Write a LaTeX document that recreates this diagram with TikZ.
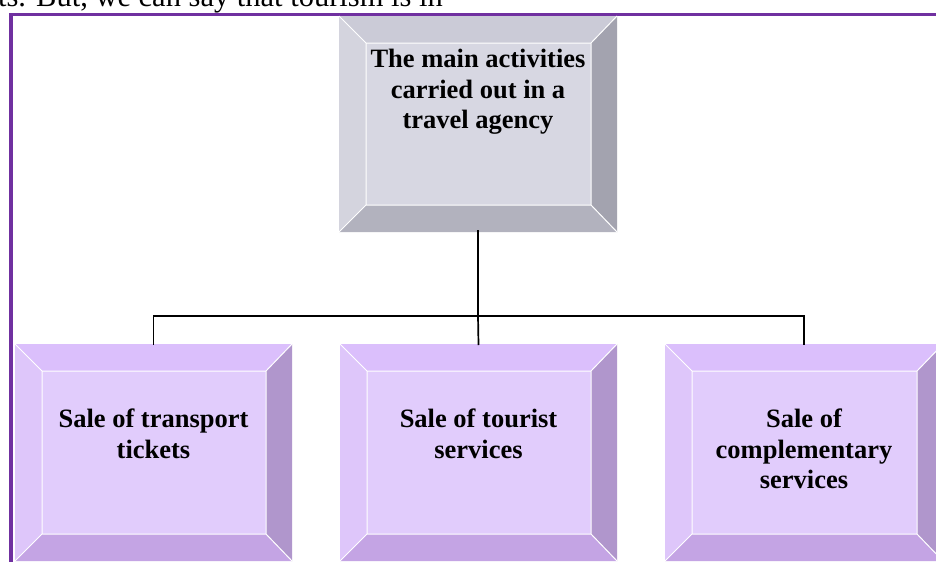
\documentclass[tikz,border=0pt]{standalone}
\usepackage{fontspec}
\setmainfont{Liberation Serif}
\usetikzlibrary{calc}
\definecolor{framecol}{HTML}{7030A0}
\definecolor{gface}{RGB}{215,215,226}
\definecolor{gtop}{RGB}{203,203,215}
\definecolor{gleft}{RGB}{212,212,222}
\definecolor{gright}{RGB}{163,163,175}
\definecolor{gbottom}{RGB}{178,178,190}
\definecolor{pface}{RGB}{225,204,252}
\definecolor{ptop}{RGB}{219,191,252}
\definecolor{pleft}{RGB}{222,198,250}
\definecolor{pright}{RGB}{176,150,204}
\definecolor{pbottom}{RGB}{196,164,228}
\tikzset{
  boxtext/.style={font=\bfseries\fontsize{26.5}{30.5}\selectfont, align=center, inner sep=0pt, anchor=north},
  link/.style={line width=1.7pt, black},
  bevline/.style={white, line width=1pt},
  boxshape/.style={inner sep=0pt, outer sep=0pt, rectangle},
  frameline/.style={framecol}
}
\newcommand\bevbox[6]{%
  \pgfmathsetmacro\bxa{#2}\pgfmathsetmacro\bya{#3}%
  \pgfmathsetmacro\bxb{#4}\pgfmathsetmacro\byb{#5}%
  \pgfmathsetmacro\bxc{#2+27}\pgfmathsetmacro\byc{#3+27}%
  \pgfmathsetmacro\bxd{#4-26}\pgfmathsetmacro\byd{#5-27}%
  \pgfmathsetmacro\bw{#4-#2}\pgfmathsetmacro\bh{#5-#3}%
  \node[boxshape, minimum width=\bw pt, minimum height=\bh pt] (#1) at ({(#2+#4)/2},{(#3+#5)/2}) {};
  \fill[#6top] (\bxa,\bya) -- (\bxb,\bya) -- (\bxd,\byc) -- (\bxc,\byc) -- cycle;
  \fill[#6left] (\bxa,\bya) -- (\bxc,\byc) -- (\bxc,\byd) -- (\bxa,\byb) -- cycle;
  \fill[#6right] (\bxb,\bya) -- (\bxb,\byb) -- (\bxd,\byd) -- (\bxd,\byc) -- cycle;
  \fill[#6bottom] (\bxa,\byb) -- (\bxb,\byb) -- (\bxd,\byd) -- (\bxc,\byd) -- cycle;
  \fill[#6face] (\bxc,\byc) rectangle (\bxd,\byd);
  \draw[bevline] (\bxa,\bya) -- (\bxc,\byc) (\bxb,\bya) -- (\bxd,\byc)
    (\bxa,\byb) -- (\bxc,\byd) (\bxb,\byb) -- (\bxd,\byd)
    (\bxc,\byc) rectangle (\bxd,\byd);
}
\begin{document}
\begin{tikzpicture}[x=1pt,y=-1pt]
\useasboundingbox (0,0) rectangle (936,562);
\fill[white] (0,0) rectangle (936,562);
\node[font=\fontsize{30.5}{36}\selectfont, anchor=base east, inner sep=0pt] (intro) at (443,6) {ts. But, we can say that tourism is in};
\fill[frameline] (8.5,13) rectangle (13,562);
\fill[frameline] (8.5,13) rectangle (936,16);
\bevbox{top}{339}{16}{617}{232}{g}
\bevbox{b1}{15}{344}{292}{561}{p}
\bevbox{b2}{340}{344}{617}{561}{p}
\bevbox{b3}{665}{344}{943}{561}{p}
\node[boxtext] (ttop) at (478,49) {The main activities\\carried out in a\\travel agency};
\node[boxtext] (t1) at (153.5,409) {Sale of transport\\tickets};
\node[boxtext] (t2) at (478.5,409) {Sale of tourist\\services};
\node[boxtext] (t3) at (804,409) {Sale of\\complementary\\services};
\coordinate (j) at ($(top.south)+(0,84)$);
\draw[link] ([yshift=2pt]top.south) -- (j);
\draw[link] ([yshift=-1pt]b1.north) |- (j) -| ([yshift=-1pt]b3.north);
\draw[link] (j) -- ([yshift=-1pt]b2.north);
\end{tikzpicture}
\end{document}
